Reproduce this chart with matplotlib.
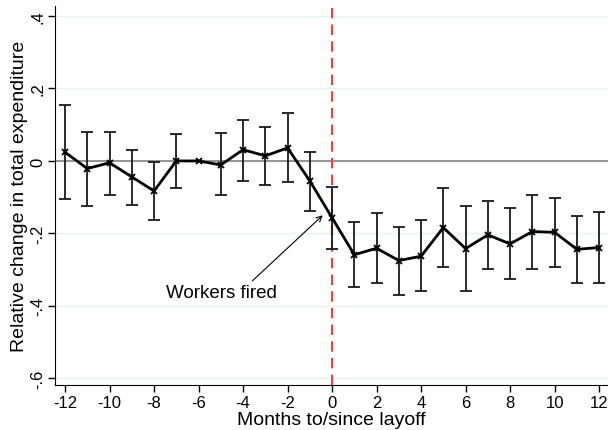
import matplotlib
matplotlib.use('Agg')
import matplotlib.pyplot as plt
import numpy as np

months = np.arange(-12, 13)
coef = [0.024, -0.021, -0.005, -0.044, -0.083, 0.000, 0.000, -0.011, 0.031, 0.014, 0.036, -0.055,
        -0.157, -0.259, -0.241, -0.275, -0.263, -0.184, -0.242, -0.204, -0.229, -0.195, -0.197, -0.244, -0.239]
ci_hi = [0.154, 0.081, 0.081, 0.029, -0.003, 0.074, np.nan, 0.077, 0.114, 0.093, 0.131, 0.025,
         -0.071, -0.169, -0.145, -0.181, -0.164, -0.074, -0.124, -0.110, -0.131, -0.093, -0.102, -0.151, -0.140]
ci_lo = [-0.104, -0.125, -0.093, -0.121, -0.164, -0.075, np.nan, -0.095, -0.055, -0.066, -0.059, -0.139,
         -0.244, -0.349, -0.338, -0.370, -0.359, -0.293, -0.359, -0.298, -0.326, -0.299, -0.294, -0.338, -0.337]
yticks = [0.4, 0.2, 0, -0.2, -0.4, -0.6]
ylabels = ['.4', '.2', '0', '-.2', '-.4', '-.6']

plt.rcParams['font.family'] = ['Liberation Sans', 'DejaVu Sans']
plt.rcParams['axes.unicode_minus'] = False

fig = plt.figure(figsize=(6.08, 4.31), dpi=100)
ax = fig.add_axes([0.0905, 0.104, 0.9095, 0.88])

coef = np.array(coef)
hi = np.array(ci_hi)
lo = np.array(ci_lo)
ok = ~np.isnan(hi)

for y in yticks:
    ax.axhline(y, color='#e8f0f1', lw=1, zorder=0)
ax.axhline(0, color='#8c8c8c', lw=1.3, zorder=1)
ax.axvline(0, color='#ff3b3b', lw=1.5, ls=(0, (5, 3)), zorder=1)

ax.errorbar(months[ok], coef[ok], yerr=[coef[ok] - lo[ok], hi[ok] - coef[ok]],
            fmt='none', ecolor='#1a1a1a', elinewidth=1.3, capsize=4.5, capthick=1.3, zorder=2)
ax.plot(months, coef, color='black', lw=2, marker='x', ms=4, mew=1.3, zorder=3)

# annotation: arrow from text to the layoff point
ax.annotate('', xy=(-0.42, -0.15), xytext=(-3.58, -0.331),
            arrowprops=dict(arrowstyle='->', color='black', lw=0.8, shrinkA=0, shrinkB=0))
ax.text(-4.98, -0.364, 'Workers fired', fontsize=13.5, ha='center', va='center')

ax.set_xlim(-12.45, 12.4)
ax.set_ylim(-0.619, 0.428)
ax.set_xticks(np.arange(-12, 13, 2))
ax.set_yticks(yticks)
ax.set_yticklabels(ylabels, rotation=90, va='center')
ax.tick_params(labelsize=12, length=5, width=1, colors='black')
ax.tick_params(axis='x', pad=2)
ax.tick_params(axis='y', pad=2)
ax.spines['top'].set_visible(False)
ax.spines['right'].set_visible(False)
ax.set_xlabel('Months to/since layoff', fontsize=14, labelpad=1)
ax.set_ylabel('Relative change in total expenditure', fontsize=14, labelpad=2)

fig.savefig('out.png', dpi=100)
